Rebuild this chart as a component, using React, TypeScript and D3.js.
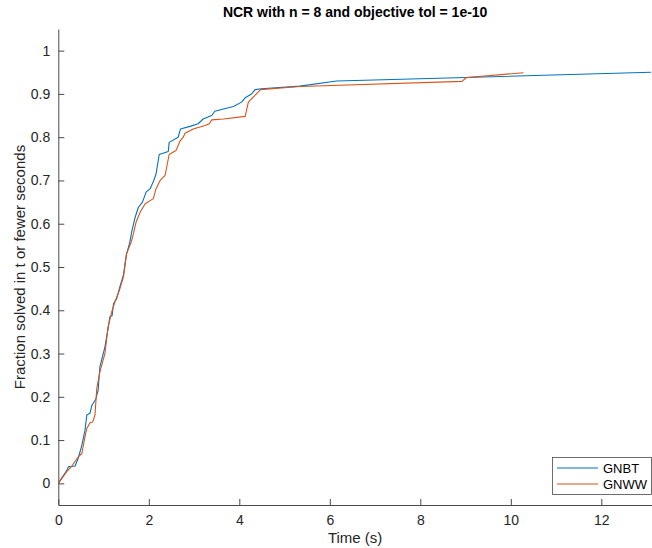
import React, { useRef, useEffect } from "react";
import * as d3 from "d3";

// Cumulative fraction of problems solved vs time
const gnbtTime = [0, 0.075, 0.19, 0.22, 0.37, 0.44, 0.52, 0.59, 0.63, 0.7, 0.74, 0.83, 0.88, 0.92, 1.03, 1.1, 1.14, 1.19, 1.22, 1.29, 1.36, 1.44, 1.5, 1.58, 1.62, 1.69, 1.77, 1.86, 1.94, 2.03, 2.11, 2.16, 2.23, 2.43, 2.45, 2.65, 2.7, 2.91, 3.09, 3.2, 3.39, 3.46, 3.65, 3.87, 4.05, 4.13, 4.27, 4.35, 4.49, 5.34, 6.15, 9.02, 13.1];
const gnbtFrac = [0, 0.012, 0.03, 0.038, 0.04, 0.058, 0.088, 0.123, 0.158, 0.162, 0.18, 0.195, 0.215, 0.27, 0.315, 0.358, 0.385, 0.388, 0.415, 0.427, 0.454, 0.482, 0.527, 0.557, 0.58, 0.612, 0.638, 0.65, 0.673, 0.681, 0.7, 0.715, 0.76, 0.767, 0.788, 0.8, 0.819, 0.825, 0.831, 0.842, 0.85, 0.86, 0.865, 0.871, 0.881, 0.891, 0.9, 0.91, 0.912, 0.918, 0.93, 0.938, 0.95];

const gnwwTime = [0, 0.185, 0.3, 0.44, 0.52, 0.59, 0.63, 0.7, 0.76, 0.81, 0.85, 0.92, 1.03, 1.1, 1.18, 1.25, 1.35, 1.44, 1.51, 1.61, 1.66, 1.72, 1.81, 1.92, 2.1, 2.16, 2.25, 2.36, 2.45, 2.6, 2.69, 2.76, 2.8, 2.98, 3.24, 3.34, 3.39, 3.65, 4.13, 4.2, 4.47, 5.34, 8.92, 9.02, 10.28];
const gnwwFrac = [0, 0.027, 0.04, 0.061, 0.069, 0.108, 0.127, 0.14, 0.142, 0.158, 0.219, 0.258, 0.3, 0.361, 0.396, 0.419, 0.446, 0.477, 0.531, 0.557, 0.577, 0.604, 0.627, 0.646, 0.658, 0.681, 0.7, 0.712, 0.76, 0.769, 0.791, 0.8, 0.809, 0.819, 0.827, 0.831, 0.84, 0.842, 0.848, 0.881, 0.91, 0.917, 0.929, 0.938, 0.949];

const seriesNames = ["GNBT", "GNWW"];
const seriesColors = ["#0072BD", "#D95319"];
const xTicks = [0, 2, 4, 6, 8, 10, 12];
const yTicks = [0, 0.1, 0.2, 0.3, 0.4, 0.5, 0.6, 0.7, 0.8, 0.9, 1];

export default function App() {
  const svgRef = useRef<SVGSVGElement>(null);

  useEffect(() => {
    const width = 652;
    const height = 548;
    const m = { left: 58.3, right: 0, top: 29, bottom: 43 };
    const font = "'Liberation Sans', Arial, Helvetica, sans-serif";
    const axisColor = "#4a4a4a";

    const svg = d3.select(svgRef.current);
    svg.selectAll("*").remove();
    svg.attr("width", width).attr("height", height);

    svg.append("rect").attr("width", width).attr("height", height).attr("fill", "#fff");

    const x = d3.scaleLinear().domain([0, 13.12]).range([m.left, width - m.right]);
    const y = d3.scaleLinear().domain([-0.05, 1.05]).range([height - m.bottom, m.top]);

    // axes
    const xAxis = svg
      .append("g")
      .attr("transform", `translate(0,${height - m.bottom})`)
      .call(d3.axisBottom(x).tickValues(xTicks).tickSizeInner(-6).tickSizeOuter(0).tickPadding(10).tickFormat(d3.format("d")));
    const yAxis = svg
      .append("g")
      .attr("transform", `translate(${m.left},0)`)
      .call(d3.axisLeft(y).tickValues(yTicks).tickSizeInner(-6).tickSizeOuter(0).tickPadding(8).tickFormat((d) => String(d)));

    [xAxis, yAxis].forEach((g) => {
      g.selectAll("path, line").attr("stroke", axisColor);
      g.selectAll("text").attr("fill", "#262626").style("font-family", font).style("font-size", "14px");
    });

    // lines
    const series = [
      gnbtTime.map((t, i) => [t, gnbtFrac[i]]),
      gnwwTime.map((t, i) => [t, gnwwFrac[i]]),
    ];
    const line = d3.line<number[]>().x((d) => x(d[0])).y((d) => y(d[1]));
    series.forEach((s, i) => {
      svg
        .append("path")
        .datum(s)
        .attr("d", line)
        .attr("fill", "none")
        .attr("stroke", seriesColors[i])
        .attr("stroke-width", 1.1)
        .attr("stroke-linejoin", "round");
    });

    // title and labels
    svg
      .append("text")
      .attr("x", (m.left + width) / 2)
      .attr("y", 17)
      .attr("text-anchor", "middle")
      .style("font-family", font)
      .style("font-size", "14px")
      .style("font-weight", "bold")
      .attr("fill", "#000")
      .text("NCR with n = 8 and objective tol = 1e-10");

    svg
      .append("text")
      .attr("x", (m.left + width) / 2)
      .attr("y", 543)
      .attr("text-anchor", "middle")
      .style("font-family", font)
      .style("font-size", "15px")
      .attr("fill", "#262626")
      .text("Time (s)");

    svg
      .append("text")
      .attr("transform", `translate(25,${(m.top + height - m.bottom) / 2}) rotate(-90)`)
      .attr("text-anchor", "middle")
      .style("font-family", font)
      .style("font-size", "15px")
      .attr("fill", "#262626")
      .text("Fraction solved in t or fewer seconds");

    // legend
    const lg = svg.append("g").attr("transform", "translate(552.5,457.5)");
    lg.append("rect").attr("width", 99).attr("height", 37).attr("fill", "#fff").attr("stroke", axisColor).attr("stroke-width", 0.8);
    seriesNames.forEach((name, i) => {
      const yy = 10.5 + i * 16;
      lg.append("line").attr("x1", 4.5).attr("x2", 45.5).attr("y1", yy).attr("y2", yy).attr("stroke", seriesColors[i]).attr("stroke-width", 1.1);
      lg.append("text")
        .attr("x", 50.5)
        .attr("y", yy)
        .attr("dy", "0.35em")
        .style("font-family", font)
        .style("font-size", "13px")
        .attr("fill", "#000")
        .text(name);
    });
  }, []);

  return (
    <div style={{ position: "absolute", left: 0, top: 0 }}>
      <svg ref={svgRef} style={{ display: "block" }}></svg>
    </div>
  );
}
